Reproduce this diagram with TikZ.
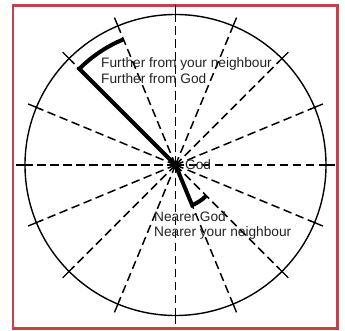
\documentclass[tikz,border=0pt]{standalone}
\usepackage{fontspec}
\setmainfont{Liberation Sans}
\usetikzlibrary{calc}
\definecolor{framered}{RGB}{200,64,74}
\definecolor{txt}{RGB}{35,35,35}
\begin{document}
\begin{tikzpicture}[x=1pt,y=1pt,
  radial/.style={line width=1.5pt,dash pattern=on 8.5pt off 4.5pt},
  tickmark/.style={line width=1.4pt},
  rim/.style={line width=1.4pt},
  heavy/.style={line width=4pt},
  lbl/.style={anchor=base west,inner sep=0pt,text=txt,font=\fontsize{13.7}{16}\selectfont}]
\useasboundingbox (0,0) rectangle (345,331);
\draw[framered,line width=2.5pt] (13,2.5) rectangle (337.5,325.7);
\coordinate (c) at (175.5,166);
\draw[rim] (c) circle (150.5);
\foreach \a in {0,22.5,...,337.5}{
  \draw[radial] (c) -- ++(\a:147);
  \draw[tickmark] ($(c)+(\a:146)$) -- ($(c)+(\a:159.5)$);
}
\draw[heavy] (c) -- ++(135:136) arc (135:112.5:136);
\draw[heavy] (c) -- ++(-67.5:43.5) arc (-67.5:-45:43.5);
\node[lbl] (fn) at (101,263) {Further from your neighbour};
\node[lbl] (fg) at (101,247) {Further from God};
\node[lbl] (god) at (185,161.5) {God};
\node[lbl] (ng) at (154,109.3) {Nearer God};
\node[lbl] (nn) at (154,94.5) {Nearer your neighbour};
\end{tikzpicture}
\end{document}
